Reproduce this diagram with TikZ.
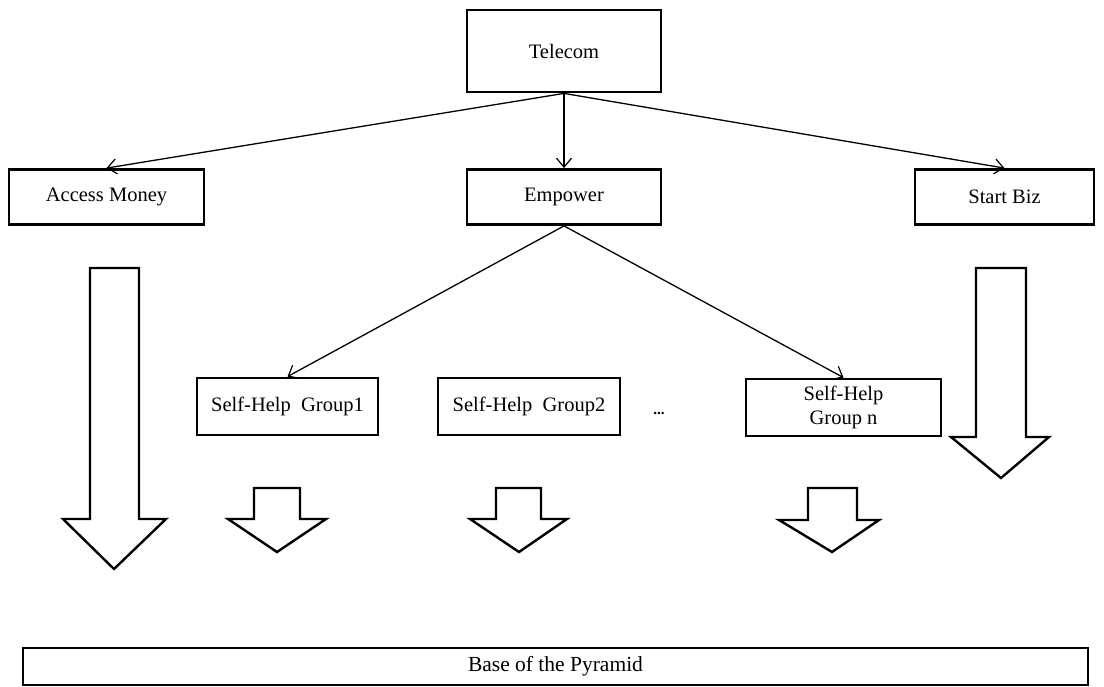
\documentclass[tikz,border=0pt]{standalone}
\usepackage{fontspec}
\setmainfont{Liberation Serif}
\usetikzlibrary{arrows.meta}
\begin{document}
\begin{tikzpicture}[x=1pt,y=-1pt,
  box/.style={draw=black,line width=2.8pt,fill=white,inner sep=0pt,align=center,
    font=\fontsize{20.5}{23}\selectfont},
  conn/.style={line width=1.3pt,-{Straight Barb[length=9pt,width=15pt,line width=1.2pt]}},
  blockarrow/.style={draw=black,line width=2.4pt,line join=miter,fill=white}]
\useasboundingbox[fill=white] (0,0) rectangle (1104,686);
% boxes
\node[box,minimum width=194pt,minimum height=82pt] (tel) at (564,51) {Telecom};
\node[box,minimum width=195pt,minimum height=55pt] (acc) at (106.5,197) {Access Money};
\node[box,minimum width=194pt,minimum height=55pt] (emp) at (564,197) {Empower};
\node[box,minimum width=179pt,minimum height=55pt] (biz) at (1004.5,197) {Start Biz};
\node[box,minimum width=181pt,minimum height=57pt] (g1) at (287.5,406.5) {Self-Help\ \ Group1};
\node[box,minimum width=182pt,minimum height=57pt] (g2) at (529,406.5) {Self-Help\ \ Group2};
\node[box,minimum width=195pt,minimum height=57pt,font=\fontsize{20.5}{24}\selectfont] (gn) at (843.5,407.5) {Self-Help\\Group n};
\node[font=\bfseries\fontsize{15}{17}\selectfont] (dots) at (659,413) {...};
\node[box,minimum width=1065pt,minimum height=37pt,font=\fontsize{21.5}{24}\selectfont] (base) at (555.5,666.5) {Base of the Pyramid};
% connectors
\draw[conn] (tel.south) -- (acc.north);
\draw[conn] (tel.south) -- (emp.north);
\draw[conn] (tel.south) -- (biz.north);
\draw[conn] (emp.south) -- (g1.north);
\draw[conn] (emp.south) -- (gn.north);
% block arrows
\draw[blockarrow] (90,268) -- (139,268) -- (139,519) -- (166,519) -- (114,569) -- (63,519) -- (90,519) -- cycle;
\draw[blockarrow] (976,268) -- (1026,268) -- (1026,437) -- (1049,437) -- (1001,478) -- (951,437) -- (976,437) -- cycle;
\draw[blockarrow] (254,488) -- (300,488) -- (300,519) -- (326,519) -- (277,552) -- (228,519) -- (254,519) -- cycle;
\draw[blockarrow] (496,488) -- (541,488) -- (541,519) -- (567,519) -- (519,552) -- (470,519) -- (496,519) -- cycle;
\draw[blockarrow] (808,488) -- (857,488) -- (857,520) -- (879,520) -- (832,552) -- (779,520) -- (808,520) -- cycle;
\end{tikzpicture}
\end{document}
